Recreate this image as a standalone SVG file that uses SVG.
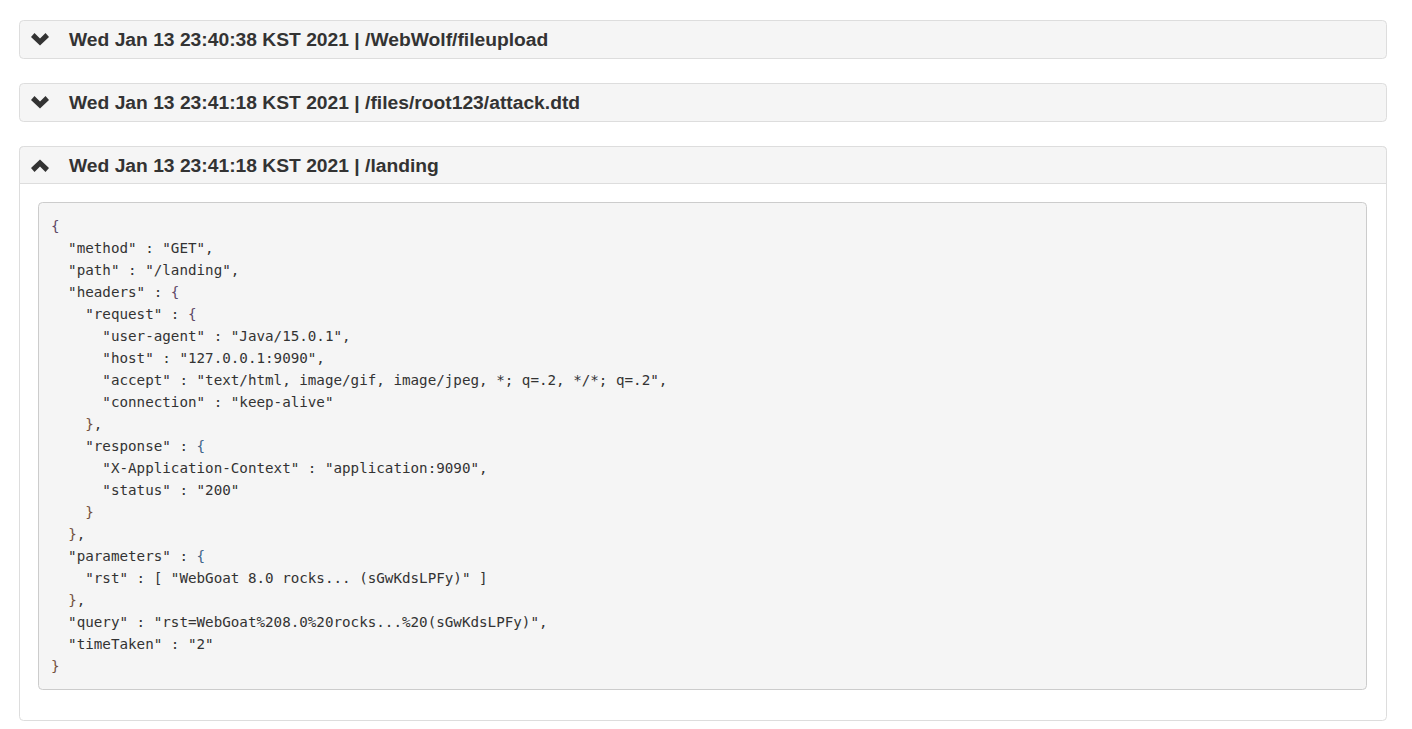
<svg xmlns="http://www.w3.org/2000/svg" width="1412" height="729" viewBox="0 0 1412 729">
<style>
.panel{fill:#fff;stroke:#ddd;stroke-width:1}
.head{fill:#f5f5f5;stroke:#ddd;stroke-width:1}
.title{font:bold 19.25px "Liberation Sans",Arial,sans-serif;fill:#333}
.chev{fill:#333}
.pre{fill:#f5f5f5;stroke:#ccc;stroke-width:1}
.code{font:14.23px "DejaVu Sans Mono",monospace;fill:#333;white-space:pre}
.p{fill:#5f4a68}.b{fill:#41658a}.r{fill:#74523f}
</style>
<rect width="1412" height="729" fill="#fff"/>
<g id="panel1">
<rect class="head" x="19.500" y="20.500" width="1367" height="38" rx="4"/>
<polygon class="chev" points="31,37 34.500,33 40,38.500 45.500,33 49,37 40,45.500"/>
<text class="title" x="69" y="46">Wed Jan 13 23:40:38 KST 2021 | /WebWolf/fileupload</text>
</g>
<g id="panel2">
<rect class="head" x="19.500" y="83.500" width="1367" height="38" rx="4"/>
<polygon class="chev" points="31,100 34.500,96 40,101.500 45.500,96 49,100 40,108.500"/>
<text class="title" x="69" y="109">Wed Jan 13 23:41:18 KST 2021 | /files/root123/attack.dtd</text>
</g>
<g id="panel3">
<rect class="panel" x="19.500" y="146.500" width="1367" height="574" rx="4"/>
<path class="head" d="M19.500 183.500V150.500a4 4 0 0 1 4-4H1382.500a4 4 0 0 1 4 4V183.500Z"/>
<polygon class="chev" points="40,159.500 49,168 45.500,172 40,166.500 34.500,172 31,168"/>
<text class="title" x="69" y="172">Wed Jan 13 23:41:18 KST 2021 | /landing</text>
<rect class="pre" x="38.500" y="202.500" width="1328" height="487" rx="4"/>
<text class="code" xml:space="preserve"><tspan x="51" y="231" class="p">{</tspan>
<tspan x="51" y="253">  "method" : "GET",</tspan>
<tspan x="51" y="275">  "path" : "/landing",</tspan>
<tspan x="51" y="297">  "headers" : <tspan class="p">{</tspan></tspan>
<tspan x="51" y="319">    "request" : <tspan class="p">{</tspan></tspan>
<tspan x="51" y="341">      "user-agent" : "Java/15.0.1",</tspan>
<tspan x="51" y="363">      "host" : "127.0.0.1:9090",</tspan>
<tspan x="51" y="385">      "accept" : "text/html, image/gif, image/jpeg, *; q=.2, */*; q=.2",</tspan>
<tspan x="51" y="407">      "connection" : "keep-alive"</tspan>
<tspan x="51" y="429">    <tspan class="r">}</tspan>,</tspan>
<tspan x="51" y="451">    "response" : <tspan class="b">{</tspan></tspan>
<tspan x="51" y="473">      "X-Application-Context" : "application:9090",</tspan>
<tspan x="51" y="495">      "status" : "200"</tspan>
<tspan x="51" y="517">    <tspan class="r">}</tspan></tspan>
<tspan x="51" y="539">  <tspan class="r">}</tspan>,</tspan>
<tspan x="51" y="561">  "parameters" : <tspan class="b">{</tspan></tspan>
<tspan x="51" y="583">    "rst" : [ "WebGoat 8.0 rocks... (sGwKdsLPFy)" ]</tspan>
<tspan x="51" y="605">  <tspan class="r">}</tspan>,</tspan>
<tspan x="51" y="627">  "query" : "rst=WebGoat%208.0%20rocks...%20(sGwKdsLPFy)",</tspan>
<tspan x="51" y="649">  "timeTaken" : "2"</tspan>
<tspan x="51" y="671" class="r">}</tspan></text>
</g>
</svg>
